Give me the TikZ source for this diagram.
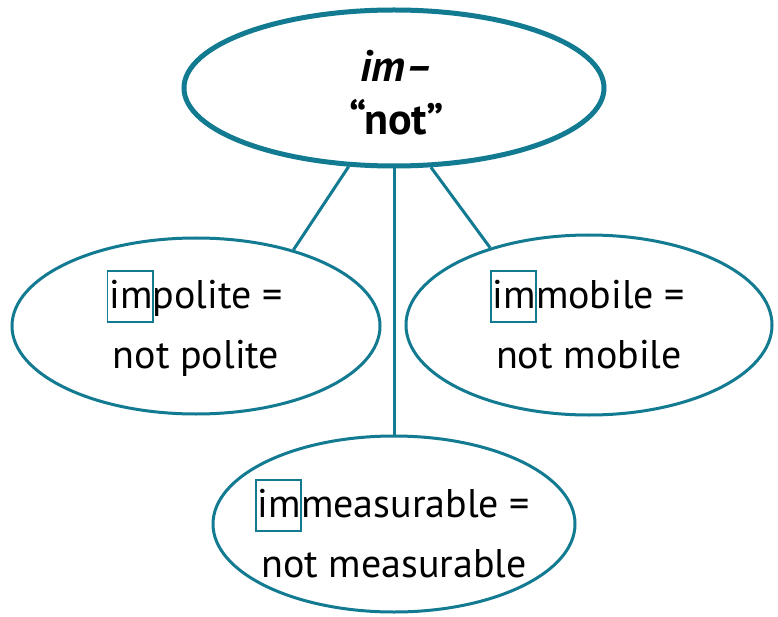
\documentclass[tikz,border=0pt]{standalone}
\usepackage{fontspec}
\setmainfont{PT Sans}
\usetikzlibrary{shapes.geometric}
\definecolor{tealc}{RGB}{18,122,145}
\newcommand\imbox[1]{\setbox0\hbox{#1}\rlap{\kern-3pt{\color{tealc}\fboxrule=1.8pt\fboxsep=0pt\fbox{\vrule width 0pt height 36pt depth 13pt\kern\dimexpr\wd0+0.4pt\relax}}}\box0}
\begin{document}
\begin{tikzpicture}[x=1pt,y=-1pt,
  bubble/.style={ellipse, draw=tealc, line width=3pt, inner sep=0pt},
  txt/.style={anchor=base, inner sep=0pt, align=center, font=\fontsize{40}{60}\selectfont},
  link/.style={draw=tealc, line width=3pt}]
\useasboundingbox (0,0) rectangle (778,617);
\node[bubble, line width=5pt, minimum width=420pt, minimum height=156pt] (top) at (394,88) {};
\node[bubble, minimum width=368pt, minimum height=176pt] (left) at (196,326) {};
\node[bubble, minimum width=366pt, minimum height=180pt] (right) at (589,325) {};
\node[bubble, minimum width=362pt, minimum height=176pt] (bottom) at (394,524) {};
\node[txt, font=\fontsize{44}{53}\selectfont\bfseries] (toptxt) at (397,135) {\textit{im–}\\“not”};
\node[txt] (lefttxt) at (196,368) {\imbox{im}polite =\\not polite};
\node[txt] (righttxt) at (589,368) {\imbox{im}mobile =\\not mobile};
\node[txt] (bottomtxt) at (394,577) {\imbox{im}measurable =\\not measurable};
\draw[link] (top.240) -- (left.38);
\draw[link] (top.south) -- (bottom.north);
\draw[link] (top.295) -- (right.142);
\end{tikzpicture}
\end{document}
